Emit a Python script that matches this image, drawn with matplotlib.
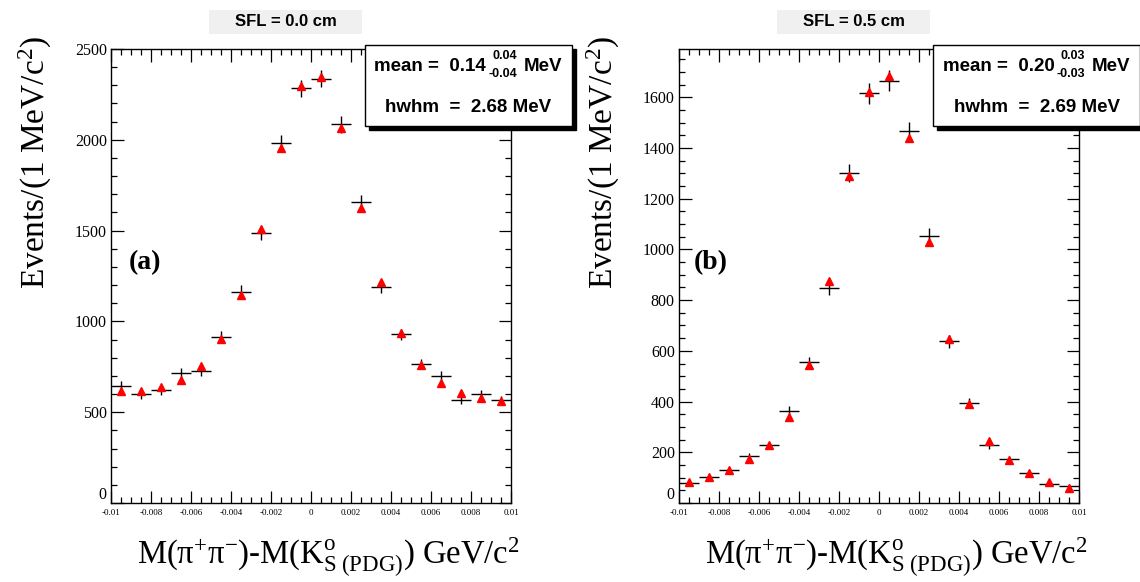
import numpy as np
import matplotlib.pyplot as plt
from matplotlib.patches import Rectangle
from matplotlib.ticker import MultipleLocator

plt.rcParams['font.family'] = ['Liberation Serif', 'DejaVu Serif']
plt.rcParams['mathtext.fontset'] = 'custom'
plt.rcParams['mathtext.rm'] = 'Liberation Serif'
plt.rcParams['mathtext.it'] = 'Liberation Serif:italic'
plt.rcParams['mathtext.bf'] = 'Liberation Serif:bold'
plt.rcParams['axes.unicode_minus'] = False

# bin centres, M(pi+pi-) - M(K0s PDG) in GeV/c^2, 1 MeV bins
bin_centres = [-0.0095, -0.0085, -0.0075, -0.0065, -0.0055, -0.0045, -0.0035,
               -0.0025, -0.0015, -0.0005, 0.0005, 0.0015, 0.0025, 0.0035,
               0.0045, 0.0055, 0.0065, 0.0075, 0.0085, 0.0095]
bin_half = 0.0005

# SFL = 0.0 cm
data_a = [646, 598, 620, 714, 729, 916, 1164, 1487, 1981, 2283,
          2337, 2085, 1656, 1191, 929, 764, 699, 567, 600, 565]
mc_a = [617, 618, 637, 677, 754, 901, 1145, 1510, 1957, 2296,
        2344, 2067, 1626, 1219, 934, 760, 659, 604, 580, 563]

# SFL = 0.5 cm
data_b = [78, 104, 132, 185, 227, 362, 554, 848, 1302, 1615,
          1665, 1465, 1052, 638, 394, 230, 172, 117, 75, 67]
mc_b = [81, 104, 130, 172, 228, 340, 546, 875, 1291, 1619,
        1682, 1440, 1029, 648, 390, 244, 169, 117, 81, 58]

x_ticks = [-0.01, -0.008, -0.006, -0.004, -0.002, 0, 0.002, 0.004, 0.006, 0.008, 0.01]
x_ticklabels = ['-0.01', '-0.008', '-0.006', '-0.004', '-0.002', '0',
                '0.002', '0.004', '0.006', '0.008', '0.01']
y_ticks_a = [0, 500, 1000, 1500, 2000, 2500]
y_ticks_b = [0, 200, 400, 600, 800, 1000, 1200, 1400, 1600]

titles = ['SFL = 0.0 cm', 'SFL = 0.5 cm']
tags = ['(a)', '(b)']
means = [('0.14', '0.04', '-0.04'), ('0.20', '0.03', '-0.03')]
hwhms = ['2.68', '2.69']

W, H = 1140, 582
fig = plt.figure(figsize=(W / 100, H / 100), dpi=100)


def fx(px):
    return px / W


def fy(py):
    return 1 - py / H


def fig_rect(x0, y0, x1, y1, **kw):
    r = Rectangle((fx(x0), fy(y1)), fx(x1) - fx(x0), fy(y0) - fy(y1),
                  transform=fig.transFigure, **kw)
    fig.add_artist(r)
    return r


sans = 'Liberation Sans'
renderer = fig.canvas.get_renderer()


def text_width(t):
    return t.get_window_extent(renderer).width


def stats_box(x0, x1, y0, y1, mean, hwhm):
    fig_rect(x0 + 4, y0 + 4, x1 + 4, y1 + 4, facecolor='black', edgecolor='black', zorder=2)
    fig_rect(x0, y0, x1, y1, facecolor='white', edgecolor='black', lw=1, zorder=2.5)
    cx = (x0 + x1) / 2
    val, up, dn = mean
    kw = dict(fontfamily=sans, fontweight='bold', zorder=4)
    a = fig.text(0, 0, 'mean =  ' + val, fontsize=13.5, va='baseline', **kw)
    su = fig.text(0, 0, up, fontsize=9, va='baseline', ha='right', **kw)
    sd = fig.text(0, 0, dn, fontsize=9, va='baseline', ha='right', **kw)
    b = fig.text(0, 0, 'MeV', fontsize=13.5, va='baseline', **kw)
    wa, wb = text_width(a), text_width(b)
    ws = max(text_width(su), text_width(sd))
    total = wa + 2 + ws + 7 + wb
    left = cx - total / 2
    base = y0 + 26
    a.set_position((fx(left), fy(base)))
    right_s = left + wa + 2 + ws
    su.set_position((fx(right_s), fy(base - 12)))
    sd.set_position((fx(right_s), fy(base + 6)))
    b.set_position((fx(right_s + 7), fy(base)))
    fig.text(fx(cx), fy(y0 + 67), 'hwhm  =  ' + hwhm + ' MeV', fontsize=13.5,
             ha='center', va='baseline', **kw)


panels = [
    dict(left=111, data=data_a, mc=mc_a, ylim=2500, yticks=y_ticks_a, minor=100),
    dict(left=679, data=data_b, mc=mc_b, ylim=1790, yticks=y_ticks_b, minor=50),
]

for i, p in enumerate(panels):
    ax = fig.add_axes([fx(p['left']), fy(503), 400 / W, 454 / H])
    counts = np.array(p['data'])
    ax.errorbar(bin_centres, counts, xerr=bin_half, yerr=np.sqrt(counts),
                fmt='none', ecolor='black', elinewidth=1, capsize=0, zorder=2)
    ax.plot(bin_centres, p['mc'], linestyle='none', marker='^', ms=5.5,
            color='red', mec='red', zorder=3)

    ax.set_xlim(-0.01, 0.01)
    ax.set_ylim(0, p['ylim'])
    ax.set_xticks(x_ticks)
    ax.set_xticklabels(x_ticklabels)
    ax.set_yticks(p['yticks'])
    ax.xaxis.set_minor_locator(MultipleLocator(0.0005))
    ax.yaxis.set_minor_locator(MultipleLocator(p['minor']))
    ax.tick_params(which='both', direction='in', top=True, right=True, width=0.9)
    ax.tick_params(which='major', length=9)
    ax.tick_params(which='minor', length=4.5)
    ax.tick_params(axis='x', labelsize=6.5, pad=4)
    ax.tick_params(axis='y', labelsize=11.5, pad=3)
    for s in ax.spines.values():
        s.set_linewidth(1)
    # lift the zero label clear of the first x label
    ax.yaxis.get_major_ticks()[0].label1.set_va('bottom')

    off = p['left'] - 111

    # panel title in a grey band
    fig_rect(209 + off, 10, 362 + off, 34, facecolor='#f0f0f0', edgecolor='none', zorder=1)
    fig.text(fx(285.5 + off), fy(22), titles[i], fontfamily=sans, fontweight='bold',
             fontsize=12, ha='center', va='center', zorder=3)

    fig.text(fx(35 + off), fy(36), r'Events/(1 MeV/c$^{2}$)',
             rotation=90, ha='center', va='top', fontsize=24)
    fig.text(fx(328 + off), fy(563),
             r'M(π$^{+}$π$^{-}$)-M(K$^{\mathrm{o}}_{\mathrm{S\ (PDG)}}$) GeV/c$^{2}$',
             ha='center', va='baseline', fontsize=23.5)
    fig.text(fx(145 + off - (2 if i else 0)), fy(263), tags[i], fontsize=20,
             fontweight='bold', ha='center', va='center')

    stats_box(365 + off, 572 + off, 45, 126, means[i], hwhms[i])

fig.savefig('out.png', dpi=100)
